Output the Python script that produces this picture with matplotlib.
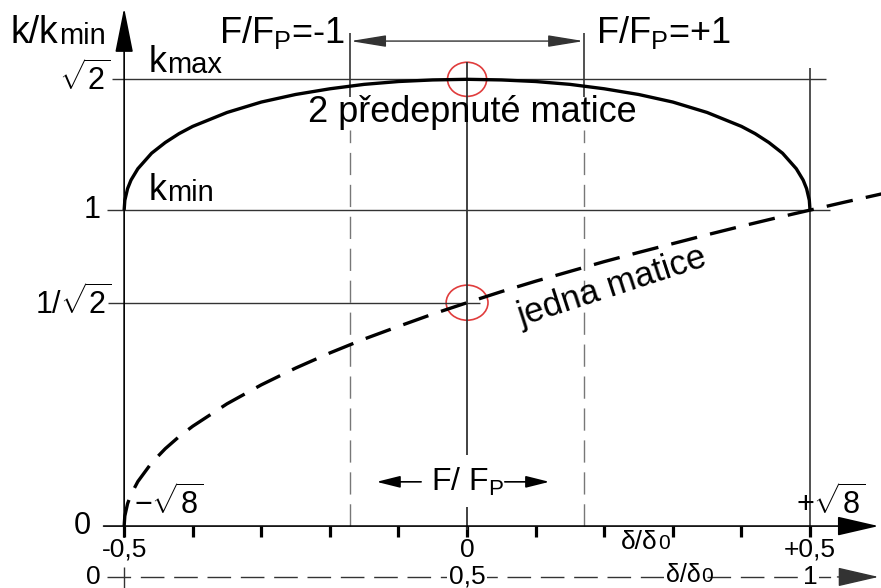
import matplotlib
matplotlib.use('Agg')
import matplotlib.pyplot as plt
from matplotlib.patches import Ellipse

plt.rcParams['font.family'] = ['Liberation Sans', 'DejaVu Sans']
plt.rcParams['mathtext.fontset'] = 'custom'
plt.rcParams['mathtext.rm'] = 'Liberation Sans'
plt.rcParams['mathtext.it'] = 'Liberation Sans:italic'
plt.rcParams['mathtext.bf'] = 'Liberation Sans:bold'

# 2 předepnuté matice: k/kmin v závislosti na δ/δ0
delta_pair = [-0.5, -0.499, -0.495, -0.49, -0.48, -0.46, -0.44, -0.42, -0.40, -0.35,
              -0.30, -0.25, -0.20, -0.15, -0.10, -0.05, 0.0, 0.05, 0.10, 0.15, 0.20,
              0.25, 0.30, 0.35, 0.40, 0.42, 0.44, 0.46, 0.48, 0.49, 0.495, 0.499, 0.5]
k_pair = [1.000, 1.031, 1.068, 1.095, 1.131, 1.180, 1.214, 1.242, 1.265, 1.309,
          1.342, 1.366, 1.384, 1.398, 1.407, 1.412, 1.414, 1.412, 1.407, 1.398, 1.384,
          1.366, 1.342, 1.309, 1.265, 1.242, 1.214, 1.180, 1.131, 1.095, 1.068, 1.031, 1.000]

# jedna matice
delta_one = [-0.5, -0.499, -0.495, -0.49, -0.48, -0.46, -0.44, -0.42, -0.40, -0.35,
             -0.30, -0.25, -0.20, -0.15, -0.10, -0.05, 0.0, 0.05, 0.10, 0.15, 0.20,
             0.25, 0.30, 0.35, 0.40, 0.45, 0.5, 0.55, 0.61]
k_one = [0.000, 0.032, 0.071, 0.100, 0.141, 0.200, 0.245, 0.283, 0.316, 0.387,
         0.447, 0.500, 0.548, 0.592, 0.632, 0.671, 0.707, 0.742, 0.775, 0.806, 0.837,
         0.866, 0.894, 0.922, 0.949, 0.975, 1.000, 1.025, 1.054]

y_levels = [0.0, 0.707, 1.0, 1.414]
y_labels = ['0', r'$\mathregular{1/\sqrt{2}}$', '1', r'$\mathregular{\sqrt{2}}$']
x_ticks = [-0.5, -0.4, -0.3, -0.2, -0.1, 0.0, 0.1, 0.2, 0.3, 0.4, 0.5]
x_labels = {-0.5: '-0,5', 0.0: '0', 0.5: '+0,5'}
x2_labels = {-0.5: '0', 0.0: '0,5', 0.5: '1'}
f_limit = 0.17          # δ/δ0 pro F/Fp = ±1
k_max, k_min, k_half = 1.414, 1.0, 0.707

fig = plt.figure(figsize=(8.81, 5.88), dpi=100)
ax = fig.add_axes([0, 0, 1, 1])
ax.set_xlim(-0.681, 0.6035)
ax.set_ylim(-0.196, 1.665)
ax.axis('off')

dark = '#333333'
grey = '#777777'


def arrow(x0, y0, x1, y1, style, lw=1.2, color='k', scale=20):
    ax.annotate('', xy=(x1, y1), xytext=(x0, y0),
                arrowprops=dict(arrowstyle=style, lw=lw, color=color,
                                mutation_scale=scale, shrinkA=0, shrinkB=0))


def with_suffix(x, y, main, suffix, size, suffix_size, **kw):
    # hlavní písmeno + menší přípona na stejné účaří
    t = ax.text(x, y, main, fontsize=size, ha='left', va='baseline', **kw)
    drop = 0.21 * (size - suffix_size)
    ax.annotate(suffix, xy=(1, 0), xycoords=t, xytext=(0.5, drop),
                textcoords='offset points', fontsize=suffix_size, ha='left', va='bottom')


# osy
arrow(-0.53, 0, 0.6, 0, '-|>,head_length=1.3,head_width=0.3')
arrow(-0.5, -0.035, -0.5, 1.64, '-|>,head_length=1.4,head_width=0.28')
ax.vlines(x_ticks, -0.035, 0.0, colors='k', lw=2.3)

# druhá osa δ/δ0 od 0 do 1
ax.plot([-0.525, 0.56], [-0.161, -0.161], color=dark, lw=1.0, linestyle=(0, (17, 7)))
arrow(0.54, -0.161, 0.6, -0.161, '-|>,head_length=1.3,head_width=0.3', lw=1.0, color=dark)
ax.vlines(-0.5, -0.196, -0.128, colors=dark, lw=1.0)

# vodorovné úrovně
ax.hlines(k_max, -0.518, 0.523, colors=dark, lw=1.0)
ax.hlines(k_min, -0.525, 0.529, colors=dark, lw=1.0)
ax.hlines(k_half, -0.524, 0.019, colors=dark, lw=1.0)

# svislé čáry
ax.vlines(0.0, 0.225, 1.47, colors=dark, lw=1.3)
ax.vlines(0.0, -0.013, 0.06, colors=dark, lw=1.3)
ax.vlines(0.5, 0.0, 1.45, colors=dark, lw=1.2)
for xf in (-f_limit, f_limit):
    ax.vlines(xf, 1.358, 1.56, colors=dark, lw=1.2)
    ax.vlines(xf, 0.0, 1.253, colors=grey, lw=1.0, linestyles=(0, (16, 7)))

# rozsah F/Fp = ±1
arrow(f_limit, 1.535, -f_limit, 1.535, '<|-|>,head_length=1.1,head_width=0.18', lw=1.0, color=dark)

# křivky
ax.plot(delta_pair, k_pair, color='k', lw=2.4, solid_capstyle='butt')
ax.plot(delta_one, k_one, color='k', lw=2.4, linestyle=(0, (8, 4)))

# zvýraznění bodů
ax.add_patch(Ellipse((0.0, k_max), 0.057, 0.108, fill=False, ec='#e03c3c', lw=1.2))
ax.add_patch(Ellipse((0.0, k_half), 0.061, 0.111, fill=False, ec='#e03c3c', lw=1.2))

# popisky osy y
label_x = [-0.548, -0.5175, -0.535, -0.520]
for xl, yv, lab in zip(label_x, y_levels, y_labels):
    ax.text(xl, yv, lab, fontsize=22, ha='right', va='center')

# popisky osy x
for xv, lab in x_labels.items():
    ax.text(xv, -0.075, lab, fontsize=19, ha='center', va='center')
with_suffix(0.224, -0.072, 'δ/δ', '0', 19, 15)
for xv, lab in x2_labels.items():
    ha = 'right' if xv == -0.5 else 'center'
    xx = -0.535 if xv == -0.5 else xv
    ax.text(xx, -0.161, lab, fontsize=19, ha=ha, va='center',
            bbox=dict(fc='white', ec='none', pad=1))
with_suffix(0.29, -0.178, 'δ/δ', '0', 18, 15,
            bbox=dict(fc='white', ec='none', pad=1))

with_suffix(-0.665, 1.528, 'k/k', 'min', 27, 21)
with_suffix(-0.465, 1.437, 'k', 'max', 26, 21)
with_suffix(-0.465, 1.032, 'k', 'min', 26, 21)

ax.text(-0.178, 1.528, r'F/F$\mathregular{_P}$=-1', fontsize=26, ha='right', va='baseline')
ax.text(0.188, 1.528, r'F/F$\mathregular{_P}$=+1', fontsize=26, ha='left', va='baseline')
ax.text(0.007, 1.31, '2 předepnuté matice', fontsize=26, ha='center', va='center')
ax.text(0.212, 0.758, 'jedna matice', fontsize=25, ha='center', va='center', rotation=18)

ax.text(0.0, 0.14, r'F/ F$\mathregular{_P}$', fontsize=23, ha='center', va='center')
arrow(-0.067, 0.14, -0.132, 0.14, '-|>,head_length=0.8,head_width=0.2', scale=18)
arrow(0.055, 0.14, 0.12, 0.14, '-|>,head_length=0.8,head_width=0.2', scale=18)

ax.text(-0.485, 0.073, r'$\mathregular{-\sqrt{8}}$', fontsize=22, ha='left', va='center')
ax.text(0.48, 0.073, r'$\mathregular{+\sqrt{8}}$', fontsize=22, ha='left', va='center')

fig.savefig('out.png', dpi=100, facecolor='white')
